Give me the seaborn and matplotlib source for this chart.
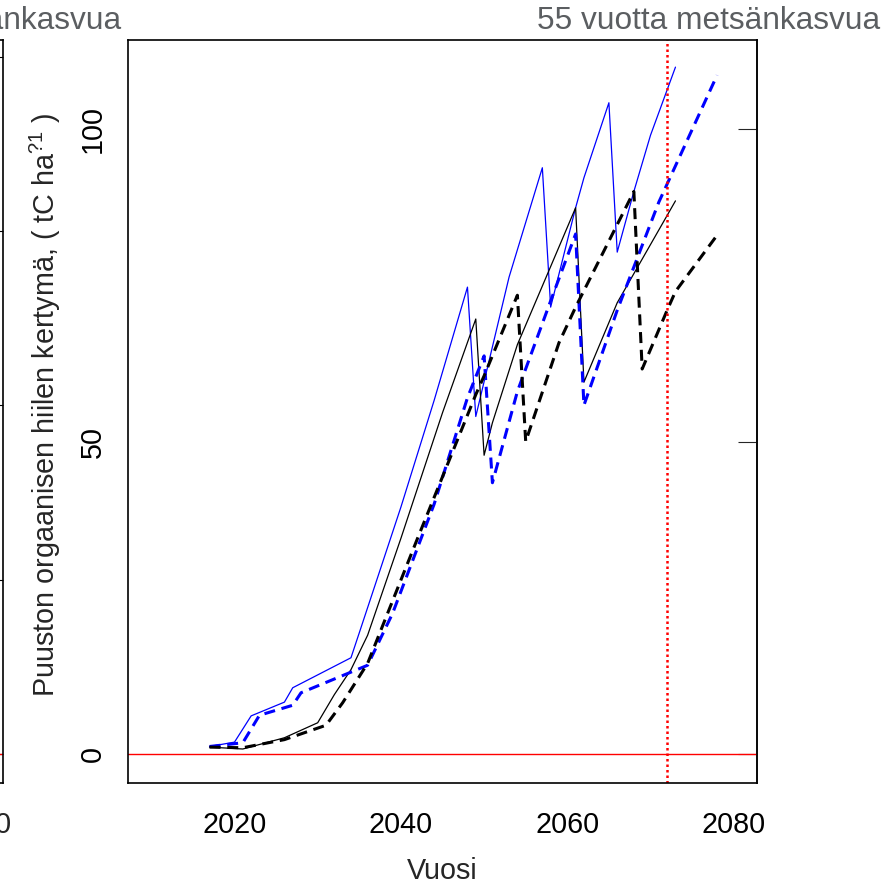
import matplotlib
matplotlib.use("Agg")
import pandas as pd
import matplotlib.pyplot as plt
import seaborn as sns

# blue solid
years_blue = [2017, 2020, 2022, 2026, 2027, 2034, 2035, 2040, 2044, 2048, 2049,
              2053, 2057, 2058, 2061, 2062, 2065, 2066, 2068, 2070, 2073]
c_blue = [1.2, 1.9, 6.1, 8.3, 10.6, 15.4, 19.4, 39.5, 56.6, 74.7, 54.0,
          76.3, 93.8, 71.5, 87.4, 92.2, 104.2, 80.3, 90.0, 99.0, 109.9]
# black solid
years_black = [2017, 2021, 2026, 2030, 2032, 2034, 2036, 2040, 2045, 2049, 2050,
               2051, 2054, 2058, 2061, 2062, 2066, 2073]
c_black = [1.1, 0.8, 2.6, 5.0, 9.5, 13.5, 19.0, 34.5, 54.6, 69.6, 47.8,
           53.0, 65.5, 78.0, 87.4, 59.5, 72.2, 88.5]
# blue dashed
years_blue_d = [2017, 2021, 2023, 2027, 2028, 2036, 2039, 2044, 2048, 2050, 2051,
                2054, 2058, 2061, 2062, 2066, 2071, 2078]
c_blue_d = [1.2, 1.8, 6.2, 7.8, 9.8, 14.2, 22.5, 40.0, 57.0, 63.7, 43.4,
            58.0, 72.5, 83.2, 55.8, 71.0, 88.3, 108.6]
# black dashed
years_black_d = [2017, 2021, 2026, 2031, 2033, 2036, 2042, 2049, 2050, 2054, 2055,
                 2059, 2061, 2068, 2069, 2072, 2073, 2078]
c_black_d = [1.1, 1.0, 2.3, 4.6, 8.2, 14.5, 34.5, 57.5, 60.5, 73.4, 50.0,
             65.8, 71.5, 90.0, 61.6, 71.0, 74.0, 83.0]

x_ticks = [2020, 2040, 2060, 2080]
y_ticks = [0, 50, 100]
cut_year = 2072
title_main = "55 vuotta metsänkasvua"
title_left = "metsänkasvua"

sns.set_style("white")
plt.rcParams['font.family'] = ['Liberation Sans', 'DejaVu Sans']
plt.rcParams['mathtext.fontset'] = 'custom'
plt.rcParams['mathtext.rm'] = 'Liberation Sans'
plt.rcParams['mathtext.it'] = 'Liberation Sans:italic'

W, H = 895, 885
fs = 20.7
fig = plt.figure(figsize=(W / 100, H / 100), dpi=100)
ax = fig.add_axes([128 / W, 102 / H, 629 / W, 743 / H])
axL = fig.add_axes([-626 / W, 102 / H, 629 / W, 743 / H])

xlim = (2007.2, 2082.8)

# left (cut off) panel
axL.set_xlim(*xlim)
axL.set_ylim(-8.33, 204.8)
axL.axhline(0, color='red', lw=1)
axL.set_xticks(x_ticks)
axL.set_yticks([0, 50, 100, 150, 200])
axL.tick_params(axis='y', left=False, right=True, direction='in', length=14,
                width=0.8, labelleft=False, colors='black')
axL.tick_params(axis='x', direction='out', length=9.5, width=0.8, pad=11,
                labelsize=fs)
for s in axL.spines.values():
    s.set_linewidth(1.2)
    s.set_color('black')

# main panel
series = [
    (years_blue, c_blue, 'blue', 0.9, '-'),
    (years_black, c_black, 'black', 0.9, '-'),
    (years_blue_d, c_blue_d, 'blue', 2.2, (0, (3.6, 2.2))),
    (years_black_d, c_black_d, 'black', 2.2, (0, (3.6, 2.2))),
]
for yrs, vals, col, lw, ls in series:
    df = pd.DataFrame({'Vuosi': yrs, 'C': vals})
    sns.lineplot(data=df, x='Vuosi', y='C', ax=ax, color=col, linewidth=lw,
                 linestyle=ls, sort=False, estimator=None)

ax.axhline(0, color='red', lw=1)
ax.axvline(cut_year, color='red', lw=1.8, linestyle=(0, (1, 1.2)))

ax.set_xlim(*xlim)
ax.set_ylim(-4.64, 114.24)
ax.set_xticks(x_ticks)
ax.set_yticks(y_ticks)
ax.tick_params(axis='both', direction='out', length=9.5, width=0.8,
               labelsize=fs, colors='black')
ax.tick_params(axis='x', pad=11)
ax.tick_params(axis='y', pad=6, labelrotation=90)
for lab in ax.get_yticklabels():
    lab.set_va('center')
for s in ax.spines.values():
    s.set_linewidth(1.2)
    s.set_color('black')

sec = ax.secondary_yaxis('right')
sec.set_yticks(y_ticks)
sec.tick_params(axis='y', direction='in', length=14, width=0.8, labelright=False)
sec.spines['right'].set_linewidth(1.2)

ax.set_xlabel('Vuosi', fontsize=fs)
ax.xaxis.set_label_coords(0.5, (783 - 879) / 743)
ax.xaxis.label.set_va('baseline')

ax.set_ylabel('Puuston orgaanisen hiilen kertymä, ( tC ha$^{\\mathrm{?1}}$ )',
              fontsize=fs)
ax.yaxis.set_label_coords((55 - 128) / 629, (783 - 405) / 743)
ax.yaxis.label.set_rotation_mode('anchor')
ax.yaxis.label.set_ha('center')
ax.yaxis.label.set_va('baseline')

fig.text(880 / W, 1 - 29 / H, title_main, ha='right', va='baseline',
         fontsize=22.8, color='#5b5e61')
fig.text(122 / W, 1 - 29 / H, title_left, ha='right', va='baseline',
         fontsize=22.8, color='#5b5e61')

fig.savefig('out.png', dpi=100)
